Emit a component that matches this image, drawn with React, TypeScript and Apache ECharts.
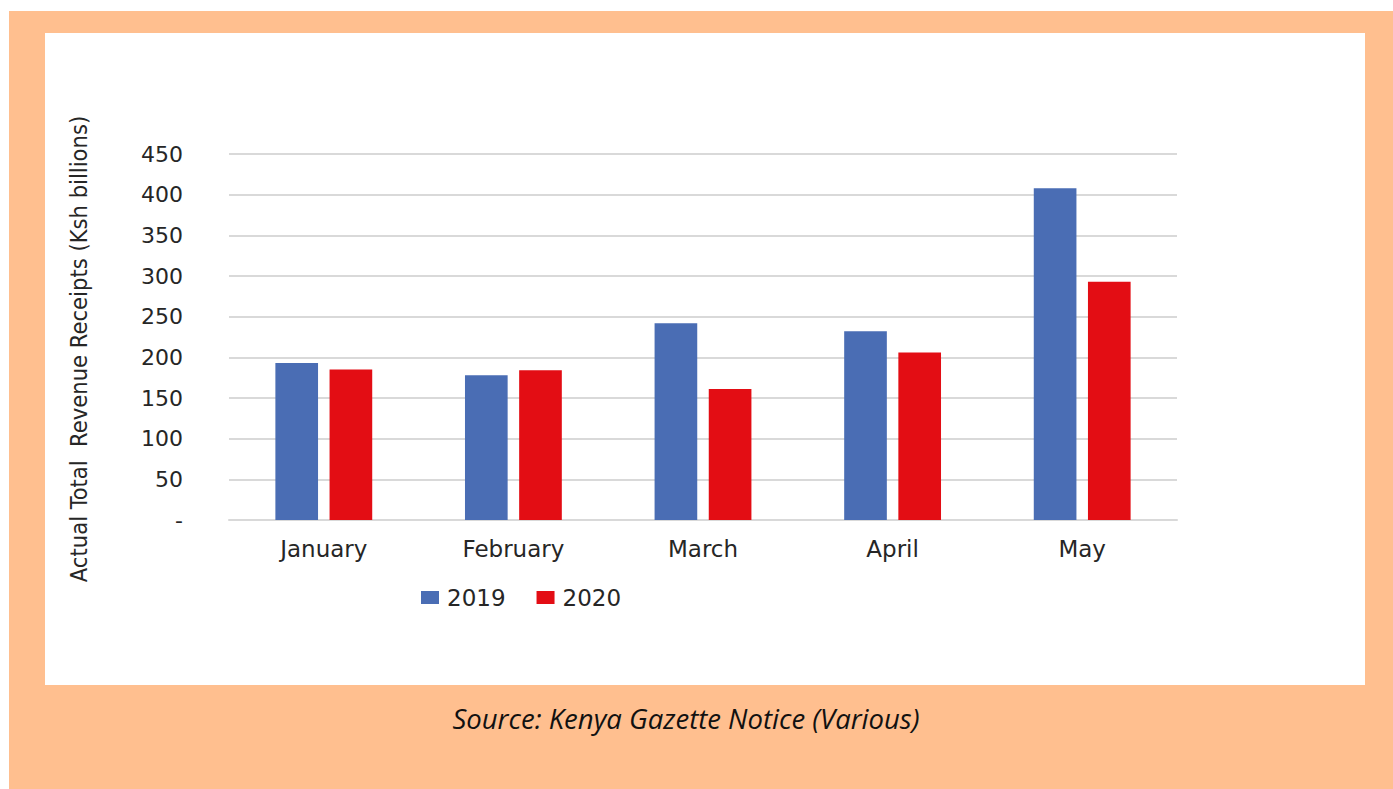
import React, { useEffect, useRef } from "react";
import * as echarts from "echarts";

const categories = ["January", "February", "March", "April", "May"];
const series2019 = [193, 178, 242, 232, 408];
const series2020 = [185, 184, 161, 206, 293];
const yTicks = { min: 0, max: 450, interval: 50 };
const seriesNames = ["2019", "2020"];
const yAxisTitle = "Actual Total  Revenue Receipts (Ksh billions)";
const sourceText = "Source: Kenya Gazette Notice (Various)";

const BLUE = "#4A6DB4";
const RED = "#E30D14";
const TEXT = "#262626";
const FONT = "'DejaVu Sans', sans-serif";

export default function App() {
  const ref = useRef<HTMLDivElement>(null);
  useEffect(() => {
    if (!ref.current) return;
    const chart = echarts.init(ref.current, undefined, { renderer: "svg" });
    chart.setOption({
      animation: false,
      backgroundColor: "transparent",
      grid: { left: 229, right: 216, top: 154, bottom: 269, containLabel: false },
      legend: {
        data: seriesNames,
        left: 421,
        top: 586,
        padding: 0,
        icon: "rect",
        itemWidth: 18,
        itemHeight: 13,
        itemGap: 31,
        textStyle: { fontFamily: FONT, fontSize: 23, color: TEXT, padding: [0, 0, 0, 3] },
      },
      xAxis: {
        type: "category",
        data: categories,
        axisLine: { show: true, lineStyle: { color: "#D9D9D9", width: 2 } },
        axisTick: { show: false },
        axisLabel: { fontFamily: FONT, fontSize: 23, color: TEXT, margin: 17 },
      },
      yAxis: {
        type: "value",
        min: yTicks.min,
        max: yTicks.max,
        interval: yTicks.interval,
        axisLine: { show: false },
        axisTick: { show: false },
        splitLine: { lineStyle: { color: "#D9D9D9", width: 2 } },
        axisLabel: {
          fontFamily: FONT,
          fontSize: 22,
          color: TEXT,
          margin: 46,
          formatter: (v: number) => (v === 0 ? "-" : String(v)),
        },
      },
      series: [
        {
          name: seriesNames[0],
          type: "bar",
          data: series2019,
          barWidth: "22.5%",
          barGap: "27%",
          itemStyle: { color: BLUE },
        },
        {
          name: seriesNames[1],
          type: "bar",
          data: series2020,
          barWidth: "22.5%",
          barGap: "27%",
          itemStyle: { color: RED },
        },
      ],
      graphic: [
        {
          type: "text",
          x: 79,
          y: 349,
          rotation: Math.PI / 2,
          style: {
            text: yAxisTitle,
            fontFamily: "'Liberation Sans Narrow', 'DejaVu Sans Condensed', 'Noto Sans', sans-serif",
            fontSize: 23.5,
            fill: TEXT,
            align: "center",
            verticalAlign: "middle",
          },
        },
        {
          type: "text",
          x: 686,
          y: 718,
          style: {
            text: sourceText,
            fontFamily: "'Open Sans', 'Noto Sans', sans-serif",
            fontStyle: "italic",
            fontSize: 27.5,
            fill: "#111111",
            align: "center",
            verticalAlign: "middle",
          },
        },
      ],
    });
    return () => chart.dispose();
  }, []);

  return (
    <div style={{ position: "fixed", left: 0, top: 0, width: 1393, height: 789, background: "#ffffff" }}>
      <div style={{ position: "absolute", left: 9, top: 11, width: 1384, height: 778, background: "#FFBF8F" }} />
      <div style={{ position: "absolute", left: 45, top: 33, width: 1320, height: 652, background: "#ffffff" }} />
      <div ref={ref} style={{ position: "absolute", left: 0, top: 0, width: 1393, height: 789 }} />
    </div>
  );
}
